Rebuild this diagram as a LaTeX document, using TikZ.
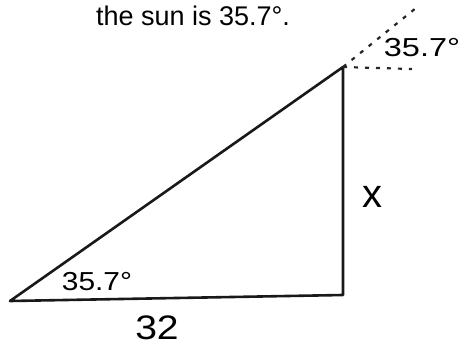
\documentclass[tikz,border=0pt]{standalone}
\usepackage{fontspec}
\setmainfont{Liberation Sans}
\begin{document}
\begin{tikzpicture}[x=1pt,y=-1pt,
  side/.style={line width=2.6pt,line cap=round,line join=round,black!90},
  guide/.style={line width=2.2pt,dash pattern=on 4pt off 7pt,black!85},
  hand/.style={font=\fontsize{26}{26}\selectfont,inner sep=0pt},
  title/.style={font=\fontsize{27}{27}\selectfont,inner sep=0pt,anchor=base}]
\useasboundingbox (0,0) rectangle (466,351);
\coordinate (A) at (10,301);
\coordinate (B) at (343,295);
\coordinate (C) at (343,67);
\coordinate (H) at (412,69);
\coordinate (S) at (416,8);
\draw[side] (B) -- (C) -- (A) -- (B);
\draw[guide] (C) -- (H);
\draw[guide] (C) -- (S);
\node[title] (t) at (193,25) {the sun is 35.7°.};
\node[hand,xscale=1.25] (a1) at (422,48) {35.7°};
\node[hand,xscale=1.15] (a2) at (97,282) {35.7°};
\node[hand,font=\fontsize{34}{34}\selectfont,xscale=1.15] (b) at (157,328) {32};
\node[hand,font=\fontsize{40}{40}\selectfont] (x) at (372,197) {x};
\end{tikzpicture}
\end{document}
